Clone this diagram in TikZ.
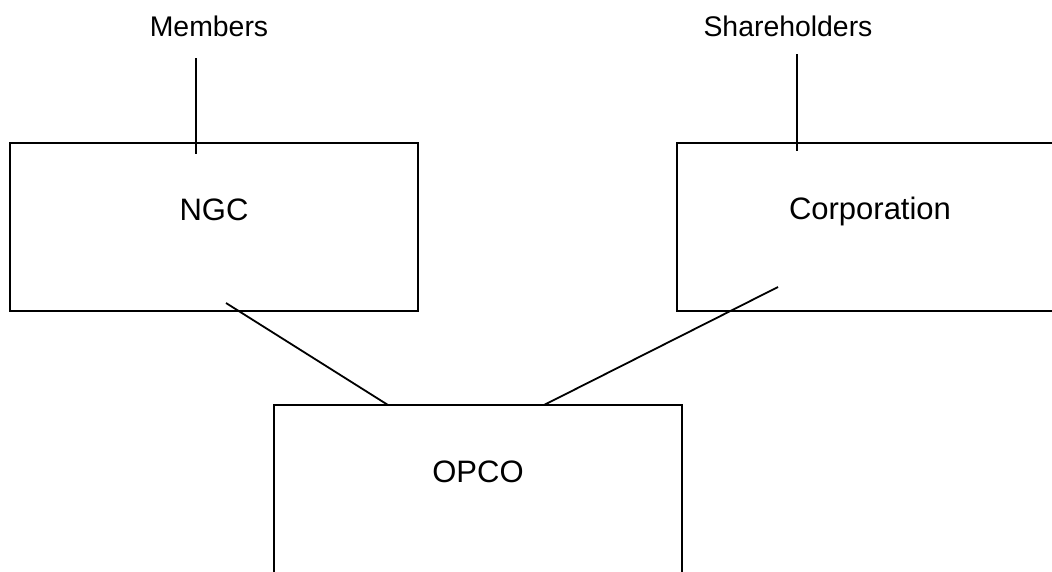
\documentclass[tikz,border=0pt]{standalone}
\usepackage{fontspec}
\setmainfont{Liberation Sans}
\begin{document}
\begin{tikzpicture}[x=1pt,y=-1pt,
  box/.style={draw=black, line width=1.8pt, rectangle, inner sep=0pt, minimum height=168pt},
  boxtext/.style={inner sep=0pt, anchor=base, font=\fontsize{31}{36}\selectfont},
  toplabel/.style={inner sep=0pt, anchor=base, font=\fontsize{28.4}{34}\selectfont},
  link/.style={draw=black, line width=1.8pt}]
\useasboundingbox (0,0) rectangle (1052,571);
\clip (0,0) rectangle (1052,571);
% boxes
\node[box, minimum width=408pt] (ngc) at (214,227) {};
\node[box, minimum width=386pt] (corp) at (870,227) {};
\node[box, minimum width=408pt] (opco) at (478,489) {};
% texts
\node[boxtext] (ngct) at (214,220) {NGC};
\node[boxtext] (corpt) at (870,219) {Corporation};
\node[boxtext] (opcot) at (478,482) {OPCO};
\node[toplabel] (members) at (209,36) {Members};
\node[toplabel] (share) at (788,36) {Shareholders};
% connector ends
\coordinate (m1) at (196,58);
\coordinate (m2) at (196,154);
\coordinate (s1) at (797,54);
\coordinate (s2) at (797,151);
\coordinate (n1) at (226,303);
\coordinate (o1) at (388,405);
\coordinate (c1) at (778,287);
\coordinate (o2) at (544,405);
\draw[link] (m1) -- (m2);
\draw[link] (s1) -- (s2);
\draw[link] (n1) -- (o1);
\draw[link] (c1) -- (o2);
\end{tikzpicture}
\end{document}
